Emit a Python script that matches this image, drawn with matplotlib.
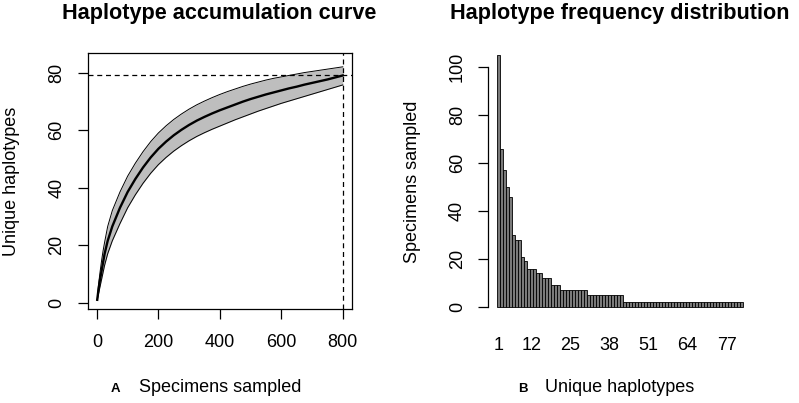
import matplotlib
matplotlib.use("Agg")
import matplotlib.pyplot as plt

plt.rcParams['font.family'] = ['Liberation Sans', 'DejaVu Sans']

# haplotype accumulation curve
specimens = [1, 5, 10, 15, 20, 25, 35, 50, 75, 100, 125, 150, 175, 200, 225, 250,
             275, 300, 325, 350, 375, 400, 425, 450, 475, 500, 525, 550, 575, 600,
             625, 650, 675, 700, 725, 750, 775, 800]
hap_mean = [1, 4.5, 8, 11, 14, 17, 21.5, 26.5, 33, 38.5, 43, 47, 50.5, 53.5, 56, 58.2,
            60.1, 61.8, 63.3, 64.6, 65.8, 66.9, 67.9, 68.9, 69.9, 70.8, 71.6, 72.4, 73.1, 73.8,
            74.5, 75.1, 75.8, 76.4, 77, 77.6, 78.3, 79]
hap_upper = [1, 6, 10.5, 14.5, 18, 21, 26.5, 32, 38.5, 44, 48.5, 52.5, 56, 59, 61.5, 63.7,
             65.6, 67.3, 68.8, 70.1, 71.3, 72.4, 73.4, 74.3, 75.2, 76, 76.7, 77.4, 78, 78.5,
             79, 79.5, 80, 80.4, 80.8, 81.2, 81.6, 82]
hap_lower = [1, 3, 5.5, 8, 10.5, 13, 17, 21.5, 27.5, 33, 37.5, 41.5, 45, 48, 50.5, 52.7,
             54.6, 56.3, 57.8, 59.1, 60.3, 61.4, 62.5, 63.6, 64.6, 65.6, 66.6, 67.5, 68.4, 69.3,
             70.1, 70.9, 71.7, 72.5, 73.3, 74.1, 74.9, 75.7]
total_specimens = 800
total_haplotypes = 79

# haplotype frequency distribution (sorted)
freq = ([105, 66, 57, 50, 46, 30, 28, 28, 21, 19, 16, 16, 16, 14, 14, 12, 12, 12, 9, 9, 9]
        + [7] * 9 + [5] * 12 + [2] * 40)
hap_ids = list(range(1, len(freq) + 1))
shown_labels = [1, 12, 25, 38, 51, 64, 77]

W, H = 799, 403
fig = plt.figure(figsize=(W / 100, H / 100), dpi=100)

def px(x0, y0, x1, y1):
    return [x0 / W, 1 - y1 / H, (x1 - x0) / W, (y1 - y0) / H]

fs = 13
dash = (0, (4, 3))

# ---- A: accumulation curve
ax1 = fig.add_axes(px(87.7, 53.3, 351.7, 309.3))
ax1.fill_between(specimens, hap_lower, hap_upper, color='#bebebe', lw=0)
ax1.plot(specimens, hap_upper, color='black', lw=0.7)
ax1.plot(specimens, hap_lower, color='black', lw=0.7)
ax1.plot(specimens, hap_mean, color='black', lw=1.7)
ax1.axhline(total_haplotypes, color='black', lw=0.9, ls=dash)
ax1.axvline(total_specimens, color='black', lw=0.9, ls=dash)
ax1.set_xlim(-30, 829)
ax1.set_ylim(-2.3, 86.7)
ax1.set_xticks([0, 200, 400, 600, 800])
ax1.set_yticks([0, 20, 40, 60, 80])
for s in ax1.spines.values():
    s.set_linewidth(0.9)
ax1.tick_params(axis='x', length=7, width=0.9, labelsize=fs, pad=11)
ax1.tick_params(axis='y', length=7, width=0.9, labelsize=fs, pad=9)
for lab in ax1.get_yticklabels():
    lab.set_rotation(90)
    lab.set_va('center')

# ---- B: frequency distribution
ax2 = fig.add_axes(px(488, 53.3, 752, 309.3))
ax2.bar(hap_ids, freq, width=0.833, color='#7a7a7a', edgecolor='black', lw=0.6)
ax2.set_xlim(1 - 3.44, len(freq) + 3.44)
ax2.set_ylim(-0.96, 105.7)
for k in ['top', 'right', 'bottom']:
    ax2.spines[k].set_visible(False)
ax2.spines['left'].set_bounds(0, 100)
ax2.spines['left'].set_linewidth(0.9)
ax2.set_yticks([0, 20, 40, 60, 80, 100])
ax2.set_xticks(shown_labels)
ax2.tick_params(axis='y', length=7, width=0.9, labelsize=fs, pad=9)
ax2.tick_params(axis='x', length=0, labelsize=fs, pad=20)
for lab in ax2.get_yticklabels():
    lab.set_rotation(90)
    lab.set_va('center')

# titles and axis labels
fig.text(219.5 / W, 1 - 13 / H, 'Haplotype accumulation curve', ha='center', va='center',
         fontsize=15.6, fontweight='bold')
fig.text(619.5 / W, 1 - 13 / H, 'Haplotype frequency distribution', ha='center', va='center',
         fontsize=15.6, fontweight='bold')
fig.text(220 / W, 1 - 388 / H, 'Specimens sampled', ha='center', va='center', fontsize=fs)
fig.text(115 / W, 1 - 389 / H, 'A', ha='center', va='center', fontsize=9.5, fontweight='bold')
fig.text(619.5 / W, 1 - 388 / H, 'Unique haplotypes', ha='center', va='center', fontsize=fs)
fig.text(523 / W, 1 - 389 / H, 'B', ha='center', va='center', fontsize=9.5, fontweight='bold')
fig.text(12 / W, 1 - 181 / H, 'Unique haplotypes', ha='center', va='center', fontsize=fs,
         rotation=90)
fig.text(412 / W, 1 - 182 / H, 'Specimens sampled', ha='center', va='center', fontsize=fs,
         rotation=90)

fig.savefig('out.png', dpi=100)
